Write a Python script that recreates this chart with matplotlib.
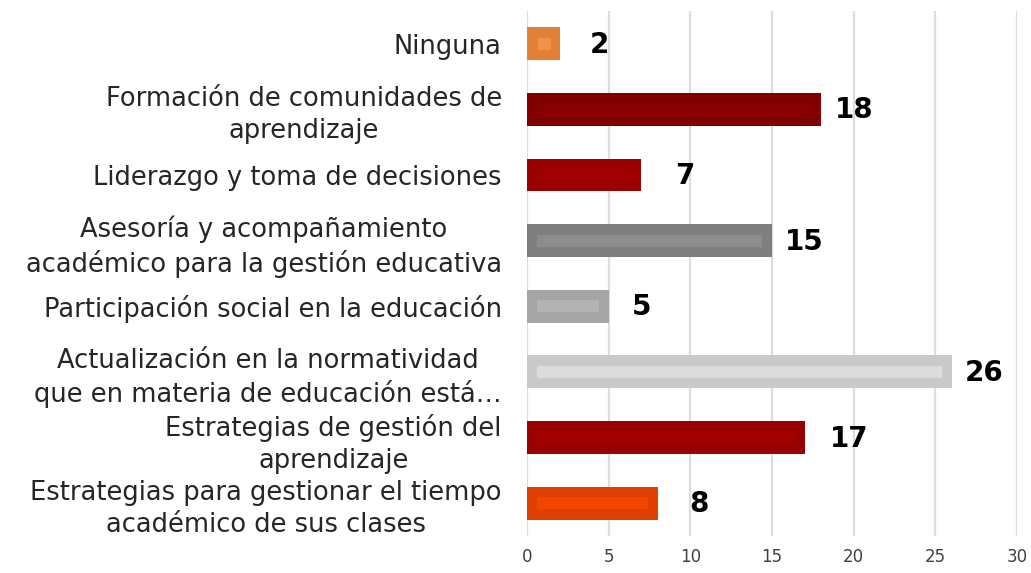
import numpy as np
import matplotlib.pyplot as plt

categorias = ['Ninguna',
              'Formación de comunidades de\naprendizaje',
              'Liderazgo y toma de decisiones',
              'Asesoría y acompañamiento\nacadémico para la gestión educativa',
              'Participación social en la educación',
              'Actualización en la normatividad\nque en materia de educación está…',
              'Estrategias de gestión del\naprendizaje',
              'Estrategias para gestionar el tiempo\nacadémico de sus clases']
valores = [2, 18, 7, 15, 5, 26, 17, 8]

# outer / inner (highlight) colour of each bar
colores = ['#E2803A', '#800000', '#990000', '#7F7F7F',
           '#A5A5A5', '#C9C9C9', '#990000', '#DD4000']
brillos = ['#EE9149', '#8A0000', '#A40000', '#8C8C8C',
           '#B3B3B3', '#DCDCDC', '#A30000', '#F24600']
# pixel gap between bar end and its label
gap_px = [30, 14, 34, 13, 23, 13, 25, 32]

fig = plt.figure(figsize=(10.31, 5.73), dpi=100)
ax = fig.add_axes([0.511, 0.0646, 0.4755, 0.9164])

y = np.arange(len(valores))
ax.barh(y, valores, height=0.5, color=colores, zorder=2)
inner_w = [max(v - 1.2, 0.4) for v in valores]
inner_l = [0.6 if v > 2 else 0.5 * (v - 0.6) for v in valores]
ax.barh(y, inner_w, left=inner_l, height=0.18, color=brillos, zorder=3)

for yi, v, g in zip(y, valores, gap_px):
    ax.annotate(str(v), (v, yi), xytext=(g, -1), textcoords='offset pixels',
                ha='left', va='center', fontsize=20, fontweight='bold',
                color='black')

ax.set_xlim(0, 30)
ax.set_ylim(len(valores) - 0.5, -0.5)
ax.set_xticks(range(0, 31, 5))
ax.set_yticks(y)
ax.set_yticklabels(categorias, fontsize=18.5, color='#262626',
                   multialignment='center', linespacing=1.3)
ax.tick_params(axis='y', length=0, pad=18)
ax.tick_params(axis='x', length=0, labelsize=12, colors='#404040', pad=9)
ax.grid(axis='x', color='#DDDDDD', linewidth=1.6, zorder=0)
for s in ax.spines.values():
    s.set_visible(False)

fig.savefig('out.png', dpi=100)
